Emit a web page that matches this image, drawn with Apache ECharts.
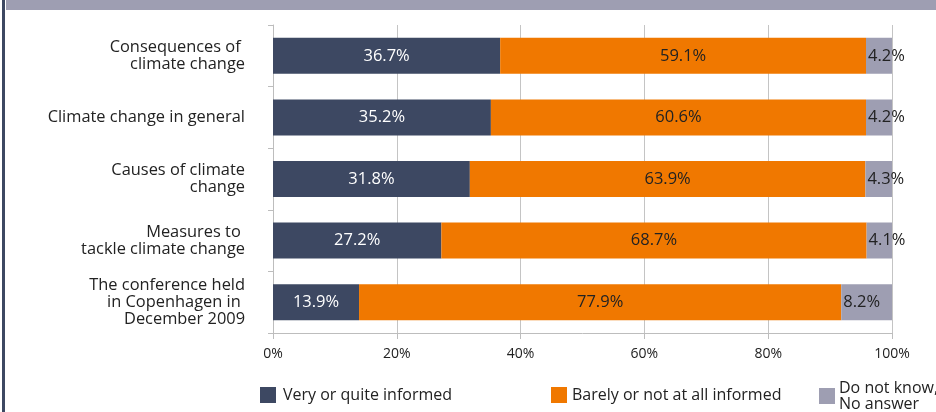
<!DOCTYPE html>
<html>
<head>
<meta charset="utf-8">
<script src="https://cdn.jsdelivr.net/npm/echarts@6/dist/echarts.min.js"></script>
<style>
html,body{margin:0;padding:0;background:#fff;}
#c{width:936px;height:412px;}
</style>
</head>
<body>
<div id="c"></div>
<script>
const categories = [
  "Consequences of \nclimate change",
  "Climate change in general",
  "Causes of climate\nchange",
  "Measures to \ntackle climate change",
  "The conference held\nin Copenhagen in \nDecember 2009"
];
const informed = [36.7, 35.2, 31.8, 27.2, 13.9];
const notInformed = [59.1, 60.6, 63.9, 68.7, 77.9];
const noAnswer = [4.2, 4.2, 4.3, 4.1, 8.2];
const xTicks = [0, 20, 40, 60, 80, 100];
const seriesNames = ["Very or quite informed", "Barely or not at all informed", "Do not know,\nNo answer"];
const colors = ["#3d4862", "#f07800", "#9e9eb2"];

const FONT = "Open Sans";
const chart = echarts.init(document.getElementById('c'));
const fmt = p => p.value.toFixed(1) + '%';

function legendAt(left, top, idx, pad) {
  return {
    data: [seriesNames[idx]],
    left: left, top: top,
    itemWidth: 16, itemHeight: 16, itemGap: 0,
    icon: 'rect',
    textStyle: {fontFamily: FONT, fontSize: 16, color: '#222', lineHeight: 16, padding: [0,0,0,pad]},
    padding: 0
  };
}

chart.setOption({
  animation: false,
  textStyle: {fontFamily: FONT},
  graphic: [
    {type: 'rect', shape: {x: 6, y: 0, width: 930, height: 10}, style: {fill: '#9e9eb2'}},
    {type: 'rect', shape: {x: 2, y: 0, width: 3, height: 412}, style: {fill: '#3d4862'}}
  ],
  legend: [legendAt(260, 387, 0, 2), legendAt(551, 387, 1, 0), legendAt(819, 380, 2, -1)],
  grid: {left: 273, right: 44, top: 25, bottom: 79, containLabel: false},
  xAxis: {
    type: 'value', min: xTicks[0], max: xTicks[xTicks.length-1], interval: 20,
    axisLine: {show: true, lineStyle: {color: '#bdbdbd', width: 1}},
    axisTick: {show: true, length: 6, lineStyle: {color: '#bdbdbd'}},
    splitLine: {show: true, lineStyle: {color: '#c4c4c4', width: 1}},
    axisLabel: {formatter: '{value}%', fontFamily: FONT, fontSize: 14, color: '#222', margin: 14}
  },
  yAxis: {
    type: 'category', inverse: true, data: categories,
    axisLine: {show: true, lineStyle: {color: '#bdbdbd', width: 1}},
    axisTick: {show: true, length: 5, lineStyle: {color: '#bdbdbd'}},
    axisLabel: {fontFamily: FONT, fontSize: 16.4, color: '#222', lineHeight: 17, margin: 28, align: 'right'}
  },
  series: [
    {name: seriesNames[0], type: 'bar', stack: 's', data: informed, barWidth: 36,
     itemStyle: {color: colors[0]},
     label: {show: true, position: 'inside', formatter: fmt, color: '#fff', fontFamily: FONT, fontSize: 16.5}},
    {name: seriesNames[1], type: 'bar', stack: 's', data: notInformed, barWidth: 36,
     itemStyle: {color: colors[1]},
     label: {show: true, position: 'inside', formatter: fmt, color: '#222', fontFamily: FONT, fontSize: 16.5}},
    {name: seriesNames[2], type: 'bar', stack: 's', data: noAnswer, barWidth: 36,
     itemStyle: {color: colors[2]},
     label: {show: true, position: 'insideLeft', distance: 2, formatter: fmt, color: '#222', fontFamily: FONT, fontSize: 16.5}}
  ]
});
</script>
</body>
</html>
